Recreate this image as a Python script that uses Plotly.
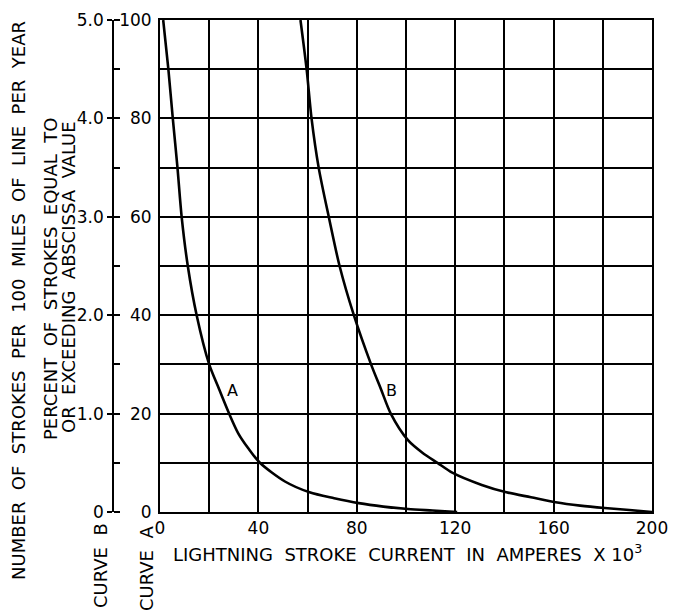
import plotly.graph_objects as go

# curve A: percent of strokes equal to or exceeding the abscissa value
curve_a_current = [1.3, 3.4, 5.2, 7.1, 8.8, 11.3, 14.9, 20.0, 24.0, 28.1, 31.8, 35.8, 40.6, 50.8, 60.8, 70.8, 80.8, 90.8, 100.8, 110.8, 120.8]
curve_a_value = [100, 90, 80, 70, 60, 50, 40, 30, 25, 20, 16, 13, 10, 6.2, 4, 2.8, 1.8, 1.1, 0.6, 0.3, 0]

# curve B: strokes per 100 miles of line per year (drawn on the same grid)
curve_b_current = [57.1, 59.6, 61.6, 64.5, 68.6, 73.0, 78.8, 85.8, 89.8, 93.8, 100.8, 106.8, 112.8, 118.8, 130.8, 140.8, 150.8, 160.8, 170.8, 180.8, 190.8, 200]
curve_b_value = [100, 90, 80, 70, 60, 50, 40, 30, 25, 20, 14.6, 12, 10, 8, 5.5, 4, 3, 2, 1.3, 0.8, 0.4, 0]

x_ticks = [0, 40, 80, 120, 160, 200]
pct_ticks = [0, 20, 40, 60, 80, 100]
strokes_ticks = [0, 1.0, 2.0, 3.0, 4.0, 5.0]
strokes_labels = ["0", "1.0", "2.0", "3.0", "4.0", "5.0"]

W, H = 673, 613
PW = W - 21          # paper width
FONT = "DejaVu Sans"
ink = "black"
SP = "\u00a0\u00a0"  # wide word gaps, like the hand lettering

fig = go.Figure()
fig.add_trace(go.Scatter(x=curve_a_current, y=curve_a_value, mode="lines",
                         line=dict(color=ink, width=2.6, shape="spline", smoothing=0.8),
                         showlegend=False))
fig.add_trace(go.Scatter(x=curve_b_current, y=curve_b_value, mode="lines",
                         line=dict(color=ink, width=2.6, shape="spline", smoothing=0.8),
                         showlegend=False))
# dummy trace so the second scale is drawn
fig.add_trace(go.Scatter(x=[None], y=[None], yaxis="y2", showlegend=False))

fig.update_layout(
    width=W, height=H,
    margin=dict(l=0, r=21, t=20, b=101),
    paper_bgcolor="white", plot_bgcolor="white",
    font=dict(family=FONT, size=17, color=ink),
    xaxis=dict(
        domain=[160 / PW, 1], range=[0, 200], automargin=False,
        tickvals=x_ticks, ticks="", showgrid=True, gridcolor=ink, gridwidth=1.5,
        minor=dict(dtick=20, tick0=0, showgrid=True, gridcolor=ink, gridwidth=1.5),
        showline=True, linecolor=ink, linewidth=2, mirror=True, zeroline=False,
        ticklabelstandoff=0,
    ),
    yaxis=dict(
        range=[0, 100], tickvals=pct_ticks, ticks="", automargin=False,
        showgrid=True, gridcolor=ink, gridwidth=1.5,
        minor=dict(dtick=10, tick0=0, showgrid=True, gridcolor=ink, gridwidth=1.5),
        showline=True, linecolor=ink, linewidth=2, mirror=True, zeroline=False,
        ticklabelstandoff=3,
    ),
    yaxis2=dict(
        overlaying="y", anchor="free", position=113 / PW, side="left", automargin=False,
        range=[0, 5], tickvals=strokes_ticks, ticktext=strokes_labels,
        ticks="outside", ticklen=5, tickwidth=1.5, tickcolor=ink,
        minor=dict(dtick=0.5, tick0=0, ticks="inside", ticklen=6, tickwidth=1.5, tickcolor=ink),
        showline=True, linecolor=ink, linewidth=1.5, showgrid=False, zeroline=False,
    ),
)

def side_text(text, x_px, y_px, size=18, gap=SP):
    fig.add_annotation(text=gap.join(text.split()), xref="paper", yref="paper",
                       x=x_px / PW, y=(512 - y_px) / 492, showarrow=False,
                       xanchor="center", yanchor="middle",
                       textangle=-90, font=dict(family=FONT, size=size, color=ink))

side_text("NUMBER OF STROKES PER 100 MILES OF LINE PER YEAR", 18, 301)
side_text("PERCENT OF STROKES EQUAL TO", 50, 279)
side_text("OR EXCEEDING ABSCISSA VALUE", 68, 277)
side_text("CURVE B", 100, 566)
side_text("CURVE A", 146, 569)

fig.add_annotation(text=SP.join("LIGHTNING STROKE CURRENT IN AMPERES X".split()) + " 10<sup>3</sup>",
                   xref="paper", yref="paper", x=(165 + 650) / 2 / PW, y=(512 - 553) / 492,
                   xanchor="center", yanchor="middle",
                   showarrow=False, font=dict(family=FONT, size=18, color=ink))

# curve labels
fig.add_annotation(text="A", x=29.4, y=24.6, showarrow=False, font=dict(size=16))
fig.add_annotation(text="B", x=94.3, y=24.6, showarrow=False, font=dict(size=16))

# the page body has a default 8px margin; drop it so the figure sits at the window corner
fig.write_html("out.html", config={"displayModeBar": False},
               post_script="document.body.style.margin='0';")
